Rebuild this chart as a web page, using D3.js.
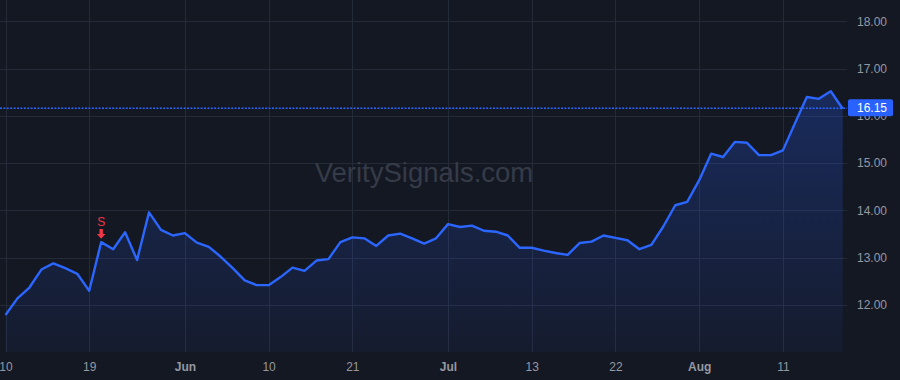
<!DOCTYPE html>
<html>
<head>
<meta charset="utf-8">
<script src="https://cdn.jsdelivr.net/npm/d3@7"></script>
<style>
  html, body { margin: 0; padding: 0; background: #141823; }
  svg { display: block; font-family: "Liberation Sans", Arial, sans-serif; }
</style>
</head>
<body>
<svg id="chart" width="900" height="380"></svg>
<script>
// closing prices, one per bar
const prices = [
    11.79, 12.14, 12.37, 12.75, 12.88, 12.78, 12.66, 12.30, 13.33, 13.18,
    13.54, 12.95, 13.96, 13.59, 13.47, 13.52, 13.32, 13.23, 13.02, 12.78,
    12.52, 12.42, 12.42, 12.59, 12.79, 12.72, 12.94, 12.97, 13.33, 13.43,
    13.41, 13.25, 13.47, 13.51, 13.41, 13.30, 13.41, 13.71, 13.65, 13.68,
    13.57, 13.55, 13.47, 13.21, 13.21, 13.15, 13.10, 13.06, 13.31, 13.34,
    13.47, 13.42, 13.37, 13.18, 13.27, 13.66, 14.11, 14.18, 14.64, 15.20,
    15.13, 15.45, 15.43, 15.17, 15.17, 15.27, 15.84, 16.40, 16.36, 16.52,
    16.15
];
const timeTickIdx = [0, 7, 15, 22, 29, 37, 44, 51, 58, 65];
const timeTickLabels = ['10', '19', 'Jun', '10', '21', 'Jul', '13', '22', 'Aug', '11'];
const monthLabels = ['Jun', 'Jul', 'Aug'];
const priceTicks = [12, 13, 14, 15, 16, 17, 18];
const lastPrice = 16.15;
const signals = [{ idx: 8, label: 'S' }];

const svg = d3.select('#chart');
const paneRight = 847;
const paneBottom = 352;

const x = d3.scaleLinear().domain([0, prices.length - 1]).range([5.5, 842.7]);
const y = d3.scaleLinear().domain([11, 18.45]).range([352.3, 0]);

svg.append('rect').attr('width', 900).attr('height', 380).attr('fill', '#141823');

// grid
const grid = svg.append('g').attr('stroke', '#252a39').attr('stroke-width', 1);
grid.selectAll('line.h').data(priceTicks).join('line')
    .attr('x1', 0).attr('x2', paneRight)
    .attr('y1', d => Math.round(y(d)) + 0.5).attr('y2', d => Math.round(y(d)) + 0.5);
grid.selectAll('line.v').data(timeTickIdx).join('line')
    .attr('x1', d => Math.round(x(d)) + 0.5).attr('x2', d => Math.round(x(d)) + 0.5)
    .attr('y1', 0).attr('y2', paneBottom);

// watermark
svg.append('text')
    .attr('x', 424).attr('y', 181.5)
    .attr('text-anchor', 'middle')
    .attr('font-size', 27.5)
    .attr('fill', '#363b48')
    .text('VeritySignals.com');

// area + line
const defs = svg.append('defs');
const grad = defs.append('linearGradient')
    .attr('id', 'areaFill')
    .attr('gradientUnits', 'userSpaceOnUse')
    .attr('x1', 0).attr('x2', 0)
    .attr('y1', y(d3.max(prices))).attr('y2', paneBottom);
grad.append('stop').attr('offset', 0).attr('stop-color', '#2962ff').attr('stop-opacity', 0.26);
grad.append('stop').attr('offset', 1).attr('stop-color', '#2962ff').attr('stop-opacity', 0.05);

svg.append('path')
    .datum(prices)
    .attr('fill', 'url(#areaFill)')
    .attr('d', d3.area().x((d, i) => x(i)).y0(paneBottom).y1(d => y(d)));

svg.append('path')
    .datum(prices)
    .attr('fill', 'none')
    .attr('stroke', '#2b66ff')
    .attr('stroke-width', 2.4)
    .attr('stroke-linejoin', 'round')
    .attr('d', d3.line().x((d, i) => x(i)).y(d => y(d)));

// last price line
svg.append('line')
    .attr('x1', 0).attr('x2', paneRight)
    .attr('y1', Math.round(y(lastPrice)) - 0.7).attr('y2', Math.round(y(lastPrice)) - 0.7)
    .attr('stroke', '#2b66ff').attr('stroke-width', 1.4).attr('stroke-dasharray', '2,1.4');

// sell markers
signals.forEach(s => {
    const sx = x(s.idx), sy = y(prices[s.idx]);
    const g = svg.append('g').attr('fill', '#f23645');
    g.append('path')
        .attr('d', `M${sx - 1.7},${sy - 13} h3.4 v5 h2.6 l-4.3,4.6 l-4.3,-4.6 h2.6 z`);
    g.append('text')
        .attr('x', sx).attr('y', sy - 16)
        .attr('text-anchor', 'middle')
        .attr('font-size', 12)
        .text(s.label);
});

// price scale
const yAxis = svg.append('g')
    .attr('transform', `translate(${paneRight + 10},0)`)
    .call(d3.axisRight(y).tickValues(priceTicks).tickSize(0).tickPadding(0).tickFormat(d3.format('.2f')));
yAxis.select('.domain').remove();
yAxis.selectAll('text').attr('fill', '#9598a1').attr('font-size', 12).attr('font-family', null);

// time scale
const xAxis = svg.append('g')
    .attr('transform', `translate(0,${paneBottom})`)
    .call(d3.axisBottom(x).tickValues(timeTickIdx).tickSize(0).tickPadding(10)
        .tickFormat((d, i) => timeTickLabels[i]));
xAxis.select('.domain').remove();
xAxis.selectAll('text')
    .attr('fill', '#9598a1').attr('font-size', 12).attr('font-family', null)
    .attr('font-weight', (d, i) => monthLabels.includes(timeTickLabels[i]) ? 'bold' : 'normal');

// last price label
const ly = y(lastPrice) - 1;
svg.append('rect')
    .attr('x', 848).attr('y', ly - 8.5).attr('width', 45).attr('height', 17).attr('rx', 2)
    .attr('fill', '#2962ff');
svg.append('text')
    .attr('x', 857).attr('y', ly + 4)
    .attr('font-size', 12).attr('fill', '#ffffff')
    .text(lastPrice.toFixed(2));
</script>
</body>
</html>
